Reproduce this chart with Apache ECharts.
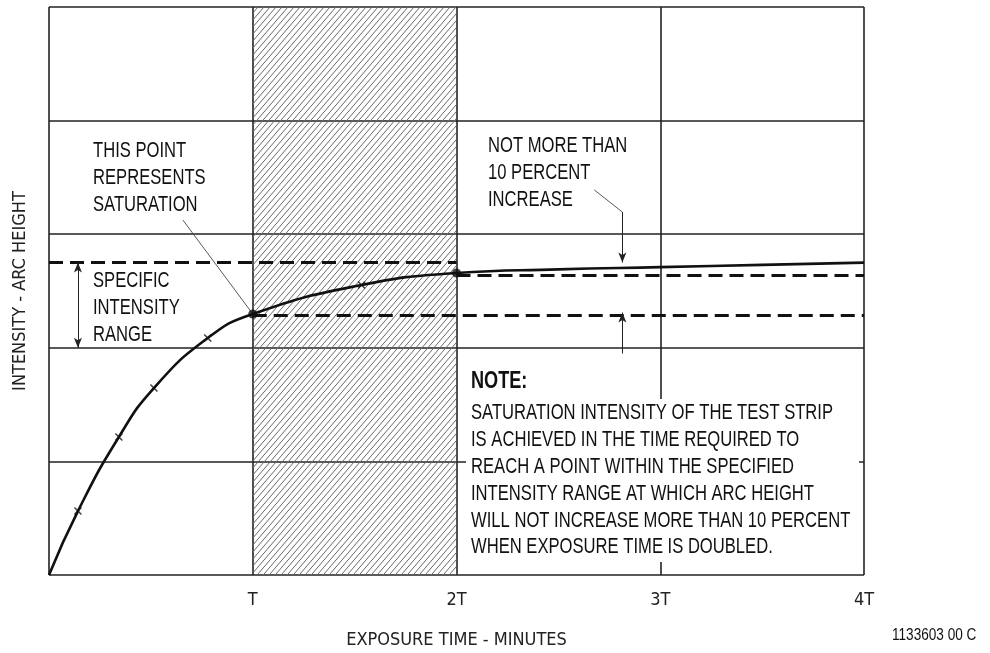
<!DOCTYPE html>
<html>
<head>
<meta charset="utf-8">
<script src="https://cdn.jsdelivr.net/npm/echarts@6/dist/echarts.min.js"></script>
<style>
html,body{margin:0;padding:0;background:#fff;}
#chart{width:990px;height:653px;}
</style>
</head>
<body>
<div id="chart"></div>
<script>
// ---- data (x in units of T, y in grid units) ----
var xTickLabels = ['', 'T', '2T', '3T', '4T'];
var curveX = [0, 0.142, 0.343, 0.515, 0.779, 1.0, 1.534, 2.0, 2.5, 3.0, 3.5, 4.0];
var curveY = [0, 0.563, 1.215, 1.646, 2.086, 2.298, 2.553, 2.658, 2.69, 2.71, 2.73, 2.75];
var crossX = [0.142, 0.343, 0.515, 0.779, 1.534];
var crossY = [0.563, 1.215, 1.646, 2.086, 2.553];
var dotX = [1.0, 2.0];
var dotY = [2.298, 2.658];
var rangeTop = 2.75;      // upper dashed limit
var rangeBottom = 2.29;   // lower dashed limit
var doubledLevel = 2.64;  // level at 2T
var hatchFrom = 1, hatchTo = 2;

var AXFONT = '"DejaVu Sans Condensed", "Liberation Sans", sans-serif';
var TXFONT = '"Liberation Sans", Arial, sans-serif';
var SX = 0.755;

function zip(a, b) { return a.map(function (v, i) { return [v, b[i]]; }); }

// hatch pattern
var pc = document.createElement('canvas');
var pw = 6, ph = 7;
pc.width = pw; pc.height = ph;
var ctx = pc.getContext('2d');
ctx.strokeStyle = '#6a6a6a';
ctx.lineWidth = 1;
for (var k = -2; k <= 2; k++) {
  ctx.beginPath();
  ctx.moveTo(k * pw - pw, 2 * ph);
  ctx.lineTo(k * pw + 2 * pw, -ph);
  ctx.stroke();
}

var chart = echarts.init(document.getElementById('chart'), null, {renderer: 'canvas'});

var thin = {color: '#222', width: 1, type: 'solid'};
var dash = {color: '#111', width: 2.8, type: [14, 7]};

function txt(x, y, s, size, weight, lh, sx) {
  return {type: 'text', z: 60, x: x, y: y, scaleX: sx || SX,
    style: {text: s, font: (weight || '') + ' ' + size + 'px ' + TXFONT, lineHeight: lh || size * 1.27, fill: '#111', textVerticalAlign: 'top'}};
}

var option = {
  animation: false,
  backgroundColor: '#fff',
  grid: {left: 49, top: 7, width: 815, height: 568, show: false, containLabel: false, outerBoundsMode: 'none'},
  xAxis: {
    type: 'value', min: 0, max: 4, interval: 1,
    axisLine: {show: false},
    axisTick: {show: false},
    splitLine: {show: true, lineStyle: {color: '#222', width: 1.6}},
    axisLabel: {
      margin: 16,
      fontFamily: AXFONT, fontSize: 18, color: '#222',
      formatter: function (v) { return xTickLabels[Math.round(v)] || ''; }
    },
    name: 'EXPOSURE TIME - MINUTES',
    nameLocation: 'middle', nameGap: 56,
    nameTextStyle: {fontFamily: AXFONT, fontSize: 18, color: '#222'}
  },
  yAxis: {
    type: 'value', min: 0, max: 5, interval: 1,
    axisLine: {show: false},
    axisTick: {show: false},
    axisLabel: {show: false},
    splitLine: {show: true, lineStyle: {color: '#222', width: 1.6}},
    name: 'INTENSITY - ARC HEIGHT',
    nameLocation: 'middle', nameGap: 20, nameRotate: 90,
    nameTextStyle: {fontFamily: AXFONT, fontSize: 18, color: '#222'}
  },
  series: [
    {
      type: 'line',
      data: zip(curveX, curveY),
      smooth: 0.5,
      showSymbol: false,
      symbol: 'none',
      lineStyle: {color: '#111', width: 2.6},
      z: 5,
      markArea: {
        silent: true,
        itemStyle: {color: {image: pc, repeat: 'repeat'}},
        data: [[{xAxis: hatchFrom}, {xAxis: hatchTo}]]
      },
      markLine: {
        silent: true,
        animation: false,
        label: {show: false},
        symbol: ['none', 'none'],
        data: [
          [{coord: [0, rangeTop], lineStyle: dash}, {coord: [2, rangeTop]}],
          [{coord: [1, rangeBottom], lineStyle: dash}, {coord: [4, rangeBottom]}],
          [{coord: [2, doubledLevel], lineStyle: dash}, {coord: [4, doubledLevel]}],
          // specific intensity range double arrow
          [{coord: [0.142, rangeTop], symbol: 'arrow', symbolSize: [6, 10], lineStyle: thin},
           {coord: [0.142, 2.0], symbol: 'arrow', symbolSize: [6, 10]}],
          // leader: this point represents saturation
          [{coord: [0.657, 3.125], lineStyle: {color: '#444', width: 0.9, type: 'solid'}},
           {coord: [1.0, 2.298]}],
          // leader: not more than 10 percent
          [{coord: [2.676, 3.39], lineStyle: {color: '#444', width: 0.9, type: 'solid'}},
           {coord: [2.814, 3.195]}],
          [{coord: [2.814, 3.195], lineStyle: thin},
           {coord: [2.814, rangeTop], symbol: 'arrow', symbolSize: [6, 10]}],
          [{coord: [2.814, 1.95], lineStyle: thin},
           {coord: [2.814, rangeBottom + 0.02], symbol: 'arrow', symbolSize: [6, 10]}]
        ]
      }
    },
    {
      type: 'scatter',
      data: zip(crossX, crossY),
      symbol: 'path://M0,0L10,10M10,0L0,10',
      symbolSize: 7,
      itemStyle: {color: 'rgba(0,0,0,0)', borderColor: '#111', borderWidth: 1.5},
      z: 6
    },
    {
      type: 'scatter',
      data: zip(dotX, dotY),
      symbol: 'circle',
      symbolSize: 9,
      itemStyle: {color: '#111'},
      z: 7
    }
  ],
  graphic: [
    {type: 'rect', z: 50, shape: {x: 466, y: 399, width: 393, height: 163}, style: {fill: '#fff'}},
    txt(93, 138, 'THIS POINT\nREPRESENTS\nSATURATION', 22, '', 26.6),
    txt(93, 268, 'SPECIFIC\nINTENSITY\nRANGE', 22, '', 26.6),
    txt(488, 133, 'NOT MORE THAN\n10 PERCENT\nINCREASE', 22, '', 26.6),
    txt(471, 368, 'NOTE:', 24, 'bold', 26),
    txt(471, 400, 'SATURATION INTENSITY OF THE TEST STRIP\nIS ACHIEVED IN THE TIME REQUIRED TO\nREACH A POINT WITHIN THE SPECIFIED\nINTENSITY RANGE AT WHICH ARC HEIGHT\nWILL NOT INCREASE MORE THAN 10 PERCENT\nWHEN EXPOSURE TIME IS DOUBLED.', 22, '', 26.8),
    txt(892, 626, '1133603 00 C', 17, '', 18, 0.8)
  ]
};
chart.setOption(option);
</script>
</body>
</html>
